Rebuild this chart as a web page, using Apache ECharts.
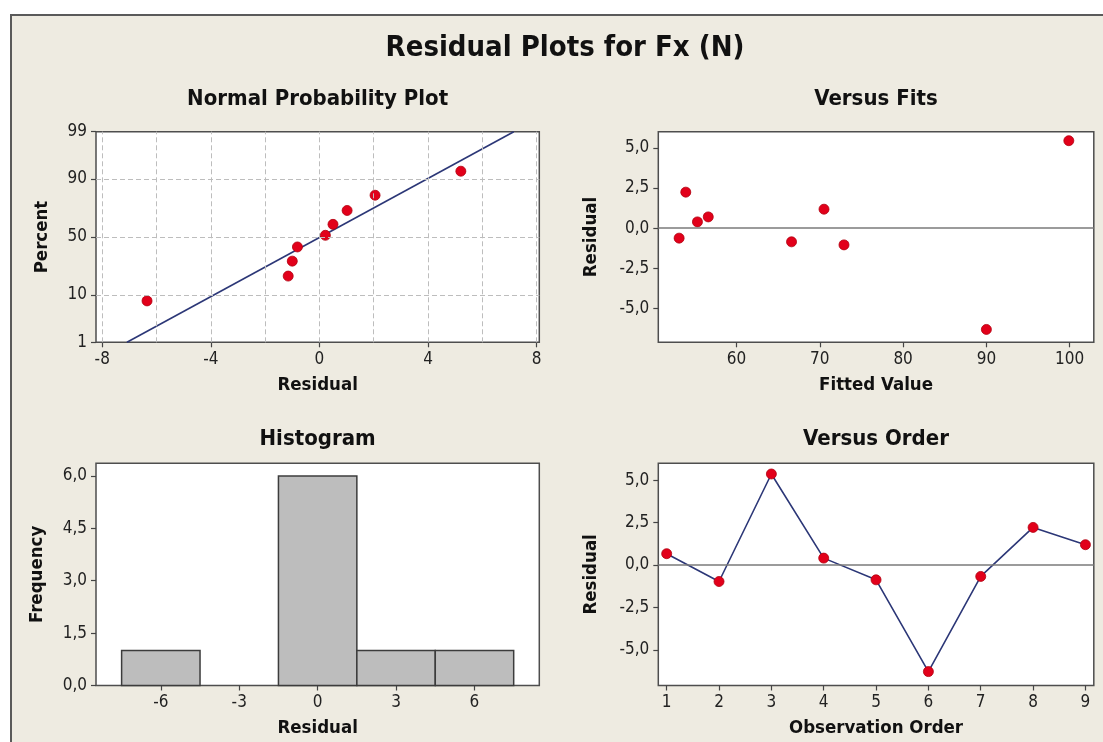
<!DOCTYPE html>
<html>
<head>
<meta charset="utf-8">
<script src="https://cdn.jsdelivr.net/npm/echarts@6/dist/echarts.min.js"></script>
<style>
  html, body { margin: 0; padding: 0; background: #ffffff; }
  #frame { position: absolute; left: 10px; top: 14px; width: 1200px; height: 800px;
           background: #EEEBE1; border-left: 2px solid #5a5a5a; border-top: 2px solid #5a5a5a; }
  #chart { position: absolute; left: 0; top: 0; width: 1103px; height: 742px; }
</style>
</head>
<body>
<div id="frame"></div>
<div id="chart"></div>
<script>
// ---------- data ----------
// Normal probability plot
const nppResidual = [-6.35, -1.15, -1.0, -0.81, 0.22, 0.50, 1.02, 2.05, 5.21];
const nppPercent  = [7.9, 19.4, 29.7, 41.3, 51.5, 61.0, 72.1, 82.2, 92.7];
const nppFitLine  = [[-7.09, 1], [7.16, 99]];
const pctTicks    = [1, 10, 50, 90, 99];
const pctGrid     = [10, 50, 90];
const nppXTicks   = [-8, -4, 0, 4, 8];
const nppXGrid    = [-8, -6, -4, -2, 0, 2, 4, 6, 8];
// Versus fits
const fitsFitted   = [53.1, 53.9, 55.3, 56.6, 66.6, 70.5, 72.9, 90.0, 99.9];
const fitsResidual = [-0.62, 2.24, 0.39, 0.70, -0.85, 1.18, -1.04, -6.30, 5.44];
const fitsXTicks   = [60, 70, 80, 90, 100];
const residTicks   = [-5, -2.5, 0, 2.5, 5];
// Histogram
const histCenters  = [-6, -3, 0, 3, 6];
const histCounts   = [1, 0, 6, 1, 1];
const histBinWidth = 3;
const histXTicks   = [-6, -3, 0, 3, 6];
const histYTicks   = [0, 1.5, 3, 4.5, 6];
// Versus order
const orderObs      = [1, 2, 3, 4, 5, 6, 7, 8, 9];
const orderResidual = [0.67, -0.97, 5.37, 0.41, -0.87, -6.28, -0.67, 2.22, 1.20];

// ---------- normal probability scale ----------
function normInv(p) {
  const a=[-3.969683028665376e+01,2.209460984245205e+02,-2.759285104469687e+02,1.383577518672690e+02,-3.066479806614716e+01,2.506628277459239e+00];
  const b=[-5.447609879822406e+01,1.615858368580409e+02,-1.556989798598866e+02,6.680131188771972e+01,-1.328068155288572e+01];
  const c=[-7.784894002430293e-03,-3.223964580411365e-01,-2.400758277161838e+00,-2.549732539343734e+00,4.374664141464968e+00,2.938163982698783e+00];
  const d=[7.784695709041462e-03,3.224671290700398e-01,2.445134137142996e+00,3.754408661907416e+00];
  const pl = 0.02425, ph = 1 - pl; let q, r;
  if (p < pl) { q = Math.sqrt(-2*Math.log(p)); return (((((c[0]*q+c[1])*q+c[2])*q+c[3])*q+c[4])*q+c[5])/((((d[0]*q+d[1])*q+d[2])*q+d[3])*q+1); }
  if (p <= ph) { q = p - 0.5; r = q*q; return (((((a[0]*r+a[1])*r+a[2])*r+a[3])*r+a[4])*r+a[5])*q/(((((b[0]*r+b[1])*r+b[2])*r+b[3])*r+b[4])*r+1); }
  q = Math.sqrt(-2*Math.log(1-p)); return -(((((c[0]*q+c[1])*q+c[2])*q+c[3])*q+c[4])*q+c[5])/((((d[0]*q+d[1])*q+d[2])*q+d[3])*q+1);
}
const zOf = pct => normInv(pct / 100);

// ---------- styles ----------
const FONT = "'DejaVu Sans Condensed', 'DejaVu Sans', sans-serif";
const RED = '#E2001A', NAVY = '#2C3777';
const comma = v => Number(v).toFixed(1).replace('.', ',');
const labelStyle = { fontFamily: FONT, fontSize: 17, color: '#222', margin: 9 };
const tick = vals => ({ show: true, length: 5, customValues: vals, lineStyle: { color: '#444', width: 1.2 } });
const nameStyle = { fontFamily: FONT, fontSize: 18.5, fontWeight: 'bold', color: '#111' };
const gridBase = { show: true, backgroundColor: '#ffffff', borderColor: '#4e4e4e', borderWidth: 1.5, containLabel: false };
const pointStyle = { color: RED, borderColor: '#B0000F', borderWidth: 0.8, opacity: 1 };

function axis(gridIndex, min, max, vals, fmt, name, gap) {
  return {
    gridIndex, type: 'value', min, max,
    axisLine: { show: false, onZero: false }, splitLine: { show: false },
    axisTick: tick(vals),
    axisLabel: Object.assign({}, labelStyle, { customValues: vals, formatter: fmt }),
    name, nameLocation: 'middle', nameGap: gap, nameTextStyle: nameStyle
  };
}

const chart = echarts.init(document.getElementById('chart'), null, { renderer: 'canvas' });

const pctZ = pctTicks.map(zOf);
const pctFmt = v => { for (let i = 0; i < pctTicks.length; i++) if (Math.abs(pctZ[i] - v) < 1e-6) return String(pctTicks[i]); return ''; };

const option = {
  backgroundColor: 'transparent',
  animation: false,
  grid: [
    Object.assign({ left: 96,    top: 131.7, width: 443.3, height: 210.6 }, gridBase),
    Object.assign({ left: 658.3, top: 131.7, width: 435.5, height: 210.6 }, gridBase),
    Object.assign({ left: 96,    top: 463.3, width: 443.3, height: 222.2 }, gridBase),
    Object.assign({ left: 658.3, top: 463.3, width: 435.5, height: 222.2 }, gridBase)
  ],
  xAxis: [
    axis(0, -8.23, 8.10, nppXTicks, v => String(v), 'Residual', 33),
    axis(1, 50.6, 102.9, fitsXTicks, v => String(v), 'Fitted Value', 33),
    axis(2, -8.48, 8.48, histXTicks, v => String(v), 'Residual', 33),
    axis(3, 0.84, 9.16, orderObs, v => String(v), 'Observation Order', 33)
  ],
  yAxis: [
    axis(0, pctZ[0], pctZ[pctZ.length - 1], pctZ, pctFmt, 'Percent', 44),
    axis(1, -7.1, 6.0, residTicks, comma, 'Residual', 58),
    axis(2, 0, 6.36, histYTicks, comma, 'Frequency', 49),
    axis(3, -7.1, 6.0, residTicks, comma, 'Residual', 58)
  ],
  graphic: [
    { type: 'text', x: 565, y: 48, z: 10, style: { text: 'Residual Plots for Fx (N)', font: "bold 29px " + FONT, fill: '#111', textAlign: 'center', textVerticalAlign: 'middle' } },
    { type: 'text', x: 317.6, y: 99, z: 10, style: { text: 'Normal Probability Plot', font: "bold 22px " + FONT, fill: '#111', textAlign: 'center', textVerticalAlign: 'middle' } },
    { type: 'text', x: 876, y: 99, z: 10, style: { text: 'Versus Fits', font: "bold 22px " + FONT, fill: '#111', textAlign: 'center', textVerticalAlign: 'middle' } },
    { type: 'text', x: 317.6, y: 439, z: 10, style: { text: 'Histogram', font: "bold 22px " + FONT, fill: '#111', textAlign: 'center', textVerticalAlign: 'middle' } },
    { type: 'text', x: 876, y: 439, z: 10, style: { text: 'Versus Order', font: "bold 22px " + FONT, fill: '#111', textAlign: 'center', textVerticalAlign: 'middle' } }
  ],
  series: [
    // NPP grid lines
    { type: 'line', xAxisIndex: 0, yAxisIndex: 0, data: [], z: 1, silent: true,
      markLine: { silent: true, symbol: 'none', label: { show: false },
        lineStyle: { color: '#BDBDBD', type: [5, 3], width: 1 },
        data: nppXGrid.map(v => ({ xAxis: v })).concat(pctGrid.map(p => ({ yAxis: zOf(p) }))) } },
    // NPP fitted line
    { type: 'line', xAxisIndex: 0, yAxisIndex: 0, z: 2, symbol: 'none', silent: true,
      lineStyle: { color: NAVY, width: 1.6 },
      data: nppFitLine.map(d => [d[0], zOf(d[1])]) },
    // NPP points
    { type: 'scatter', xAxisIndex: 0, yAxisIndex: 0, z: 3, symbolSize: 10, itemStyle: pointStyle,
      data: nppResidual.map((r, i) => [r, zOf(nppPercent[i])]) },
    // Versus fits zero line
    { type: 'line', xAxisIndex: 1, yAxisIndex: 1, data: [], z: 1, silent: true,
      markLine: { silent: true, symbol: 'none', label: { show: false },
        lineStyle: { color: '#7a7a7a', type: 'solid', width: 1.6 }, data: [{ yAxis: 0 }] } },
    // Versus fits points
    { type: 'scatter', xAxisIndex: 1, yAxisIndex: 1, z: 3, symbolSize: 10, itemStyle: pointStyle,
      data: fitsFitted.map((f, i) => [f, fitsResidual[i]]) },
    // Histogram
    { type: 'custom', xAxisIndex: 2, yAxisIndex: 2, z: 2,
      encode: { x: 0, y: 1 },
      data: histCenters.map((c, i) => [c, histCounts[i]]),
      renderItem: (params, api) => {
        const c = api.value(0), n = api.value(1);
        if (!n) return null;
        const p0 = api.coord([c - histBinWidth / 2, n]);
        const p1 = api.coord([c + histBinWidth / 2, 0]);
        return { type: 'rect', shape: { x: p0[0], y: p0[1], width: p1[0] - p0[0], height: p1[1] - p0[1] },
                 style: { fill: '#BDBDBD', stroke: '#3C3C3C', lineWidth: 1.5 } };
      } },
    // Versus order zero line
    { type: 'line', xAxisIndex: 3, yAxisIndex: 3, data: [], z: 1, silent: true,
      markLine: { silent: true, symbol: 'none', label: { show: false },
        lineStyle: { color: '#7a7a7a', type: 'solid', width: 1.6 }, data: [{ yAxis: 0 }] } },
    // Versus order line + points
    { type: 'line', xAxisIndex: 3, yAxisIndex: 3, z: 3, symbol: 'circle', symbolSize: 10, showSymbol: true,
      lineStyle: { color: NAVY, width: 1.6 }, itemStyle: pointStyle,
      data: orderObs.map((o, i) => [o, orderResidual[i]]) }
  ]
};
chart.setOption(option);
</script>
</body>
</html>
